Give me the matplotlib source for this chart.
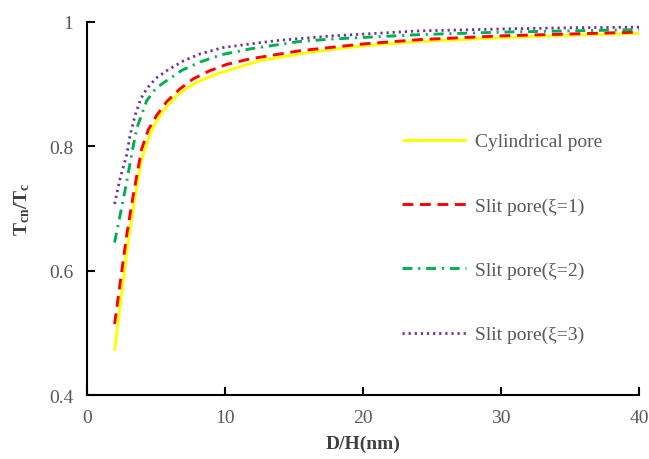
import matplotlib

matplotlib.use("Agg")

import matplotlib.pyplot as plt
from matplotlib.ticker import FuncFormatter

plt.rcParams["font.family"] = ["Liberation Serif", "DejaVu Serif"]
plt.rcParams["mathtext.fontset"] = "custom"
plt.rcParams["mathtext.rm"] = "Liberation Serif"
plt.rcParams["mathtext.it"] = "Liberation Serif:italic"
plt.rcParams["mathtext.bf"] = "Liberation Serif:bold"

# pore size D/H (nm) and reduced critical temperature for each geometry
cyl_x = [2, 3, 3.5, 3.96, 4.5, 4.93, 5.5, 6.5, 7.3, 8.19, 9.3, 10.6, 12.5, 15.4,
         18, 20, 24.1, 30, 35, 40]
cyl_y = [0.471, 0.650, 0.720, 0.779, 0.815, 0.836, 0.856, 0.881, 0.894, 0.905,
         0.915, 0.924, 0.937, 0.948, 0.956, 0.961, 0.968, 0.974, 0.978, 0.981]

slit1_x = [2, 2.87, 3.36, 3.96, 4.44, 5.04, 5.8, 6.74, 7.7, 8.9, 10.1, 11.8, 15.4,
           20, 24.1, 30, 35, 40]
slit1_y = [0.514, 0.656, 0.722, 0.795, 0.826, 0.849, 0.872, 0.892, 0.908, 0.921,
           0.931, 0.940, 0.953, 0.964, 0.971, 0.977, 0.980, 0.983]

slit2_x = [2, 2.5, 2.87, 3.24, 3.6, 4.33, 5.0, 5.77, 6.9, 8.19, 9.8, 11.8, 15.4,
           17.8, 24.1, 30, 35, 40]
slit2_y = [0.645, 0.700, 0.742, 0.787, 0.828, 0.873, 0.893, 0.905, 0.922, 0.935,
           0.947, 0.956, 0.968, 0.972, 0.979, 0.983, 0.985, 0.987]

slit3_x = [2, 2.39, 2.87, 3.12, 3.48, 3.9, 4.33, 5.0, 5.77, 7.0, 8.19, 9.8, 11.8,
           14, 17.8, 24.1, 30, 35, 40]
slit3_y = [0.707, 0.747, 0.785, 0.817, 0.849, 0.876, 0.892, 0.909, 0.921, 0.937,
           0.948, 0.958, 0.964, 0.970, 0.977, 0.985, 0.988, 0.990, 0.991]

labels = ["Cylindrical pore", "Slit pore(ξ=1)", "Slit pore(ξ=2)", "Slit pore(ξ=3)"]


def main() -> None:
    fig = plt.figure(figsize=(6.49, 4.60), dpi=100)
    ax = fig.add_axes([0.134, 0.139, 0.851, 0.812])

    ax.plot(cyl_x, cyl_y, color="#FFFF00", lw=2.1, solid_capstyle="butt", label=labels[0])
    ax.plot(slit1_x, slit1_y, color="#FF0000", lw=2.1, dashes=(3.7, 2.3), label=labels[1])
    ax.plot(slit2_x, slit2_y, color="#00B050", lw=2.1, dashes=(3.4, 2.0, 0.7, 2.0), label=labels[2])
    ax.plot(slit3_x, slit3_y, color="#7030A0", lw=2.0, dashes=(0.8, 1.4), label=labels[3])

    ax.set_xlim(0, 40)
    ax.set_ylim(0.4, 1.0)
    ax.set_xticks([0, 10, 20, 30, 40])
    ax.set_yticks([0.4, 0.6, 0.8, 1.0])
    ax.yaxis.set_major_formatter(FuncFormatter(lambda v, _: f"{v:g}"))

    for side in ("top", "right"):
        ax.spines[side].set_visible(False)
    for side in ("left", "bottom"):
        ax.spines[side].set_linewidth(1.5)
    ax.tick_params(direction="in", length=6, width=1.5, labelsize=14,
                   labelcolor="#595959", pad=10)

    ax.set_xlabel("D/H(nm)", fontsize=14, fontweight="bold", color="#404040", labelpad=6)
    ax.set_ylabel(r"$\mathbf{T_{cn}/T_c}$", fontsize=14, color="#404040", labelpad=12)

    ax.legend(loc="upper left", bbox_to_anchor=(0.619, 0.709), bbox_transform=fig.transFigure,
              frameon=False, fontsize=14, handlelength=3.3, handletextpad=0.45,
              labelspacing=2.4, borderpad=0, borderaxespad=0, labelcolor="#595959")

    fig.savefig("out.png", dpi=100)
    plt.close(fig)


if __name__ == "__main__":
    main()
